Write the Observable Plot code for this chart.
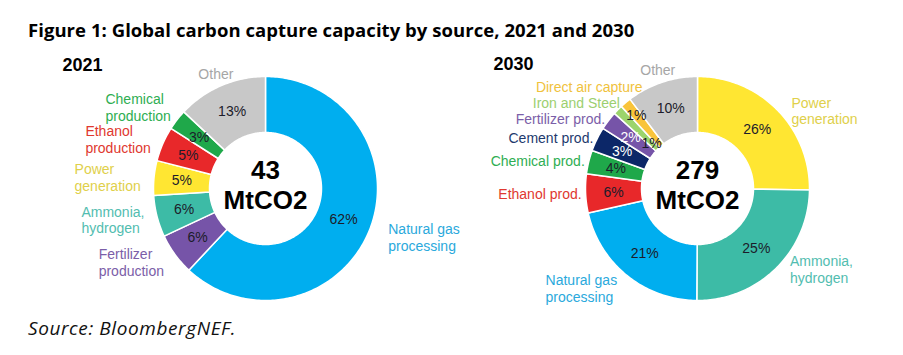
<!DOCTYPE html>
<html><head><meta charset="utf-8">
<script src="https://cdn.jsdelivr.net/npm/d3@7"></script>
<script src="https://cdn.jsdelivr.net/npm/@observablehq/plot@0.6"></script>
<style>
html,body{margin:0;padding:0;background:#fff;}
#wrap{position:relative;width:903px;height:355px;overflow:hidden;background:#fff;}
#title{position:absolute;left:28px;top:20px;font:bold 18.5px/20px 'Open Sans',sans-serif;letter-spacing:0.05px;color:#000;white-space:nowrap;}
#source{position:absolute;left:28px;top:318px;font:italic 19px/20px 'Open Sans',sans-serif;letter-spacing:0.6px;color:#111;white-space:nowrap;}
.chart{position:absolute;top:50px;}
</style></head><body>
<div id="wrap">
<div id="title">Figure 1: Global carbon capture capacity by source, 2021 and 2030</div>
<div id="c1" class="chart" style="left:0px"></div>
<div id="c2" class="chart" style="left:452px"></div>
<div id="source">Source: BloombergNEF.</div>
</div>
<script>
// ---------- data ----------
const year2021 = "2021";
const total2021 = "43\nMtCO2";
const cats2021 = ["Natural gas processing","Fertilizer production","Ammonia, hydrogen","Power generation","Ethanol production","Chemical production","Other"];
const labels2021 = ["Natural gas\nprocessing","Fertilizer\nproduction","Ammonia,\nhydrogen","Power\ngeneration","Ethanol\nproduction","Chemical\nproduction","Other"];
const share2021 = [62, 6, 6, 5, 5, 3, 13];
const pct2021 = [62, 6, 6, 5, 5, 3, 13];

const year2030 = "2030";
const total2030 = "279\nMtCO2";
const cats2030 = ["Power generation","Ammonia, hydrogen","Natural gas processing","Ethanol prod.","Chemical prod.","Cement prod.","Fertilizer prod.","Iron and Steel","Direct air capture","Other"];
const labels2030 = ["Power\ngeneration","Ammonia,\nhydrogen","Natural gas\nprocessing","Ethanol prod.","Chemical prod.","Cement prod.","Fertilizer prod.","Iron and Steel","Direct air capture","Other"];
// slice sizes as drawn in the picture
const share2030 = [25.2, 24.9, 21.4, 5.6, 3.4, 3.5, 2.7, 1.4, 1.6, 10.3];
// printed percentage labels
const pct2030 = [26, 25, 21, 6, 4, 3, 2, 1, 1, 10];

// ---------- styles ----------
const sliceColor = {
  "Natural gas processing": "#00aeef",
  "Fertilizer production": "#7654a8", "Fertilizer prod.": "#7654a8",
  "Ammonia, hydrogen": "#3dbba6",
  "Power generation": "#ffe632",
  "Ethanol production": "#e8282a", "Ethanol prod.": "#e8282a",
  "Chemical production": "#1fa84a", "Chemical prod.": "#1fa84a",
  "Other": "#c8c8c8",
  "Cement prod.": "#0c2768",
  "Iron and Steel": "#9cd46c",
  "Direct air capture": "#f9c43a"
};
const labelColor = {
  "Natural gas processing": "#2aa9dc",
  "Fertilizer production": "#7b5ea8", "Fertilizer prod.": "#7b5ea8",
  "Ammonia, hydrogen": "#52bdb0",
  "Power generation": "#e0d04a",
  "Ethanol production": "#e0382f", "Ethanol prod.": "#e0382f",
  "Chemical production": "#2eae52", "Chemical prod.": "#2eae52",
  "Other": "#a6a6a6",
  "Cement prod.": "#1e3a6e",
  "Iron and Steel": "#9ccf70",
  "Direct air capture": "#f0c23c"
};
const whitePct = ["Cement prod.", "Fertilizer prod."];
const FONT = "'Liberation Sans', Arial, sans-serif";

function donut(cfg) {
  const {el, width, height, cx, cy, year, yearDx, yearDy, total, cats, labels, shares, pcts, leftR, rightR, topR} = cfg;
  const R = 112, r0 = 56;
  const rows = cats.map((c, i) => ({cat: c, label: labels[i], share: shares[i], pct: pcts[i] + "%"}));
  const arcs = d3.pie().sort(null).value(d => d.share).startAngle(0).endAngle(2 * Math.PI)(rows);

  // slice outlines
  const poly = [];
  arcs.forEach((a, i) => {
    const span = a.endAngle - a.startAngle;
    const n = Math.max(2, Math.ceil(span / (Math.PI / 180)));
    for (let k = 0; k <= n; k++) {
      const t = a.startAngle + span * k / n;
      poly.push({key: i, cat: a.data.cat, x: R * Math.sin(t), y: R * Math.cos(t)});
    }
    for (let k = n; k >= 0; k--) {
      const t = a.startAngle + span * k / n;
      poly.push({key: i, cat: a.data.cat, x: r0 * Math.sin(t), y: r0 * Math.cos(t)});
    }
  });

  // percent labels
  let small = 0;
  const pctPts = arcs.map(a => {
    const m = (a.startAngle + a.endAngle) / 2;
    let rr = (R + r0) / 2;
    if (a.data.share < 2) rr = (small++ % 2 === 0) ? r0 + 0.15 * (R - r0) : r0 + 0.7 * (R - r0);
    return {cat: a.data.cat, text: a.data.pct, x: rr * Math.sin(m), y: rr * Math.cos(m)};
  });

  // category labels
  const lab = arcs.map(a => {
    const m = (a.startAngle + a.endAngle) / 2;
    const s = Math.sin(m), c = Math.cos(m);
    const side = s > 0.3 ? "right" : s < -0.5 ? "left" : "top";
    const lines = a.data.label.split("\n").length;
    const rr = side === "right" ? rightR : side === "left" ? leftR + (lines - 1) * 12 : topR;
    const la = side !== "right" ? "middle" : c > 0.5 ? "top" : c < -0.5 ? "bottom" : "middle";
    return {cat: a.data.cat, text: a.data.label, lines, side, la, rr, x: rr * s, y: rr * c};
  });
  const left = lab.filter(d => d.side === "left").sort((a, b) => a.y - b.y);
  for (let i = 1; i < left.length; i++) {
    const minD = (left[i].lines + left[i - 1].lines) * 8;
    if (left[i].y < left[i - 1].y + minD) left[i].y = left[i - 1].y + minD;
  }
  left.forEach(d => { d.x = -Math.sqrt(Math.max(0, d.rr * d.rr - d.y * d.y)); });

  const labelMark = (data, textAnchor, lineAnchor) => Plot.text(data, {
    x: "x", y: "y", text: "text", fill: d => labelColor[d.cat],
    textAnchor, lineAnchor, fontSize: 14, lineHeight: 1.2
  });

  const plot = Plot.plot({
    width, height, margin: 0,
    x: {domain: [-cx, width - cx], axis: null},
    y: {domain: [-(height - cy), cy], axis: null},
    color: {type: "identity"},
    style: {background: "transparent", overflow: "visible", fontFamily: FONT, fontSize: "14px"},
    marks: [
      Plot.line(poly, {x: "x", y: "y", z: "key", fill: d => sliceColor[d.cat], stroke: "white", strokeWidth: 1.5, curve: "linear-closed"}),
      Plot.text(pctPts, {x: "x", y: "y", text: "text", fill: d => whitePct.includes(d.cat) ? "#ffffff" : "#1c1c2a", fontSize: 14, lineAnchor: "middle"}),
      labelMark(lab.filter(d => d.side === "left"), "end", "middle"),
      labelMark(lab.filter(d => d.side === "top"), "middle", "middle"),
      labelMark(lab.filter(d => d.side === "right" && d.la === "top"), "start", "top"),
      labelMark(lab.filter(d => d.side === "right" && d.la === "middle"), "start", "middle"),
      labelMark(lab.filter(d => d.side === "right" && d.la === "bottom"), "start", "bottom"),
      Plot.text([{x: 0, y: 0, text: total}], {x: "x", y: "y", text: "text", fontSize: 26, fontWeight: "bold", lineHeight: 1.15, lineAnchor: "middle", dy: -4, fill: "#000"}),
      Plot.text([year], {text: d => d, frameAnchor: "top-left", textAnchor: "start", lineAnchor: "top", dx: yearDx, dy: yearDy, fontSize: 18, fontWeight: "bold", fill: "#000"})
    ]
  });
  el.appendChild(plot);

  // left labels (third mark): keep lines left-aligned while the block ends at the anchor point
  const groups = plot.querySelectorAll('g[aria-label="text"]');
  const leftGroup = groups[1];
  if (leftGroup) {
    leftGroup.querySelectorAll("text").forEach(t => {
      const w = t.getBBox().width;
      t.setAttribute("text-anchor", "start");
      t.style.textAnchor = "start";
      t.querySelectorAll("tspan").forEach(s => { s.setAttribute("text-anchor", "start"); s.style.textAnchor = "start"; });
      t.setAttribute("transform", (t.getAttribute("transform") || "") + ` translate(${-w},0)`);
    });
  }
}

donut({el: document.getElementById("c1"), width: 452, height: 268, cx: 265, cy: 138,
  year: year2021, yearDx: 62, yearDy: 8, total: total2021,
  cats: cats2021, labels: labels2021, shares: share2021, pcts: pct2021,
  leftR: 113, rightR: 132, topR: 125});
donut({el: document.getElementById("c2"), width: 451, height: 268, cx: 245, cy: 138,
  year: year2030, yearDx: 41, yearDy: 7, total: total2030,
  cats: cats2030, labels: labels2030, shares: share2030, pcts: pct2030,
  leftR: 116, rightR: 132, topR: 125});
</script>
</body></html>
